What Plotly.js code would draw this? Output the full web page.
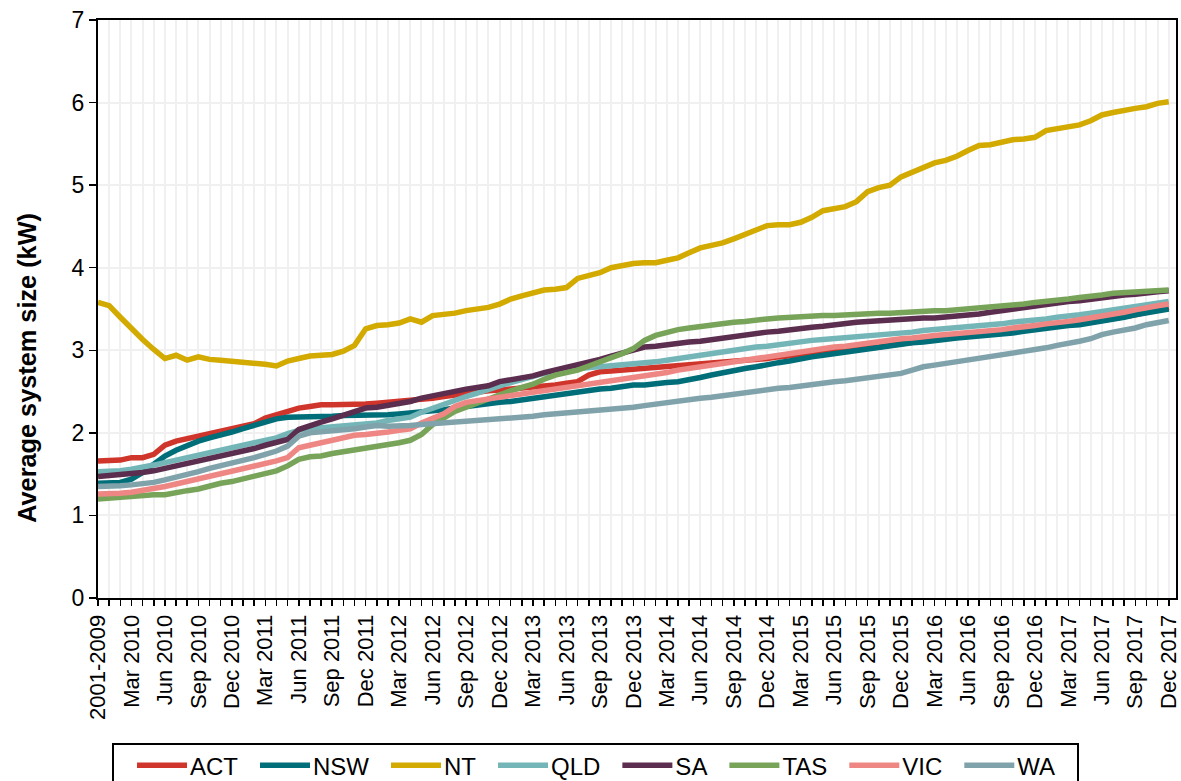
<!DOCTYPE html>
<html>
<head>
<meta charset="utf-8">
<script src="https://cdn.plot.ly/plotly-3.0.1.min.js"></script>
<style>
  html, body { margin: 0; padding: 0; background: #ffffff; }
  #chart { width: 1181px; height: 781px; }
</style>
</head>
<body>
<div id="chart"></div>
<script>
// ---- Categories / tick labels ----
const FIRST_CATEGORY = "2001-2009";
const MONTHS = ["Jan", "Feb", "Mar", "Apr", "May", "Jun", "Jul", "Aug", "Sep", "Oct", "Nov", "Dec"];
const YEARS = [2010, 2011, 2012, 2013, 2014, 2015, 2016, 2017];
const LABELLED_MONTHS = ["Mar", "Jun", "Sep", "Dec"];

const categories = [FIRST_CATEGORY];
YEARS.forEach(y => MONTHS.forEach(m => categories.push(m + " " + y)));
const tickLabels = categories.map(c =>
  (c === FIRST_CATEGORY || LABELLED_MONTHS.includes(c.slice(0, 3))) ? c : "");

// ---- Series values (average system size, kW) ----
const ACT = [1.66, 1.66, 1.67, 1.70, 1.70, 1.74, 1.85, 1.90, 1.93, 1.95, 1.98, 2.01, 2.04, 2.07, 2.11, 2.18, 2.22, 2.26, 2.30, 2.32, 2.34, 2.34, 2.34, 2.35, 2.35,
  2.36, 2.37, 2.38, 2.39, 2.40, 2.42, 2.44, 2.46, 2.48, 2.49, 2.51, 2.52, 2.53, 2.55, 2.56, 2.57, 2.58, 2.60, 2.62, 2.70, 2.74, 2.75, 2.76, 2.77, 2.79,
  2.80, 2.81, 2.82, 2.83, 2.84, 2.85, 2.86, 2.87, 2.88, 2.89, 2.90, 2.92, 2.93, 2.95, 2.96, 2.98, 2.99, 3.00, 3.01, 3.03, 3.04, 3.06, 3.08, 3.10, 3.12,
  3.13, 3.15, 3.16, 3.17, 3.19, 3.20, 3.22, 3.23, 3.25, 3.26, 3.28, 3.30, 3.31, 3.33, 3.35, 3.36, 3.38, 3.40, 3.43, 3.46, 3.49, 3.52];
const NSW = [1.39, 1.39, 1.40, 1.44, 1.52, 1.62, 1.72, 1.79, 1.85, 1.90, 1.94, 1.97, 2.01, 2.05, 2.09, 2.13, 2.17, 2.19, 2.19, 2.20, 2.20, 2.20, 2.21, 2.21, 2.22,
  2.21, 2.22, 2.23, 2.24, 2.25, 2.27, 2.28, 2.30, 2.32, 2.34, 2.35, 2.37, 2.38, 2.40, 2.42, 2.44, 2.46, 2.47, 2.49, 2.51, 2.53, 2.54, 2.56, 2.58, 2.58,
  2.60, 2.61, 2.62, 2.64, 2.67, 2.70, 2.73, 2.75, 2.78, 2.80, 2.83, 2.85, 2.87, 2.90, 2.92, 2.94, 2.96, 2.98, 3.00, 3.02, 3.04, 3.06, 3.07, 3.09, 3.10,
  3.12, 3.13, 3.15, 3.16, 3.17, 3.18, 3.20, 3.21, 3.23, 3.25, 3.27, 3.28, 3.30, 3.31, 3.33, 3.35, 3.38, 3.40, 3.43, 3.45, 3.48, 3.50];
const NT = [3.58, 3.54, 3.40, 3.26, 3.13, 3.01, 2.90, 2.94, 2.88, 2.92, 2.89, 2.88, 2.87, 2.86, 2.85, 2.83, 2.81, 2.87, 2.90, 2.93, 2.94, 2.95, 2.99, 3.06, 3.26,
  3.30, 3.31, 3.33, 3.38, 3.34, 3.42, 3.43, 3.45, 3.48, 3.50, 3.52, 3.56, 3.62, 3.66, 3.70, 3.73, 3.74, 3.76, 3.87, 3.90, 3.94, 4.00, 4.03, 4.05, 4.06,
  4.06, 4.09, 4.12, 4.18, 4.24, 4.27, 4.30, 4.35, 4.40, 4.45, 4.51, 4.52, 4.52, 4.55, 4.61, 4.69, 4.72, 4.74, 4.80, 4.92, 4.97, 5.00, 5.10, 5.16, 5.22,
  5.27, 5.30, 5.35, 5.42, 5.48, 5.49, 5.52, 5.55, 5.56, 5.58, 5.66, 5.68, 5.71, 5.73, 5.78, 5.85, 5.88, 5.91, 5.93, 5.95, 5.99, 6.01];
const QLD = [1.53, 1.53, 1.54, 1.56, 1.58, 1.61, 1.64, 1.67, 1.70, 1.73, 1.76, 1.79, 1.82, 1.84, 1.87, 1.90, 1.94, 1.99, 2.03, 2.05, 2.06, 2.07, 2.08, 2.09, 2.10,
  2.12, 2.15, 2.17, 2.19, 2.25, 2.30, 2.34, 2.39, 2.44, 2.48, 2.53, 2.57, 2.61, 2.65, 2.69, 2.72, 2.74, 2.76, 2.78, 2.79, 2.80, 2.81, 2.82, 2.83, 2.84,
  2.86, 2.88, 2.90, 2.93, 2.95, 2.97, 2.99, 3.01, 3.02, 3.04, 3.05, 3.07, 3.08, 3.10, 3.12, 3.13, 3.14, 3.15, 3.16, 3.17, 3.18, 3.19, 3.20, 3.22, 3.24,
  3.25, 3.26, 3.27, 3.28, 3.30, 3.31, 3.32, 3.34, 3.35, 3.37, 3.38, 3.40, 3.41, 3.43, 3.45, 3.47, 3.49, 3.51, 3.54, 3.56, 3.58, 3.59];
const SA = [1.47, 1.48, 1.49, 1.50, 1.52, 1.54, 1.57, 1.59, 1.62, 1.65, 1.68, 1.71, 1.74, 1.78, 1.81, 1.85, 1.89, 1.92, 2.04, 2.09, 2.13, 2.17, 2.21, 2.26, 2.30,
  2.31, 2.33, 2.36, 2.38, 2.42, 2.45, 2.48, 2.50, 2.53, 2.55, 2.57, 2.62, 2.64, 2.67, 2.69, 2.73, 2.76, 2.79, 2.82, 2.85, 2.89, 2.93, 2.97, 3.01, 3.04,
  3.05, 3.07, 3.08, 3.10, 3.11, 3.13, 3.14, 3.16, 3.18, 3.20, 3.22, 3.23, 3.25, 3.26, 3.28, 3.29, 3.31, 3.33, 3.34, 3.35, 3.36, 3.37, 3.38, 3.38, 3.39,
  3.39, 3.40, 3.42, 3.43, 3.44, 3.46, 3.48, 3.50, 3.52, 3.54, 3.55, 3.57, 3.59, 3.60, 3.62, 3.63, 3.65, 3.67, 3.68, 3.70, 3.71, 3.72];
const TAS = [1.20, 1.21, 1.22, 1.23, 1.25, 1.25, 1.25, 1.28, 1.30, 1.32, 1.36, 1.39, 1.41, 1.44, 1.47, 1.50, 1.54, 1.60, 1.68, 1.71, 1.72, 1.75, 1.77, 1.80, 1.81,
  1.83, 1.85, 1.88, 1.91, 1.98, 2.10, 2.18, 2.26, 2.31, 2.36, 2.42, 2.47, 2.51, 2.55, 2.59, 2.65, 2.70, 2.73, 2.76, 2.81, 2.86, 2.90, 2.96, 3.02, 3.12,
  3.18, 3.22, 3.25, 3.27, 3.29, 3.31, 3.33, 3.34, 3.35, 3.37, 3.38, 3.39, 3.40, 3.40, 3.41, 3.42, 3.42, 3.43, 3.44, 3.44, 3.45, 3.45, 3.46, 3.47, 3.47,
  3.48, 3.48, 3.49, 3.50, 3.51, 3.53, 3.54, 3.55, 3.56, 3.58, 3.59, 3.61, 3.62, 3.64, 3.65, 3.67, 3.69, 3.70, 3.71, 3.71, 3.72, 3.73];
const VIC = [1.26, 1.26, 1.27, 1.28, 1.30, 1.32, 1.35, 1.38, 1.41, 1.44, 1.47, 1.50, 1.53, 1.56, 1.59, 1.62, 1.66, 1.70, 1.82, 1.85, 1.88, 1.92, 1.95, 1.97, 1.98,
  1.99, 2.01, 2.03, 2.05, 2.12, 2.17, 2.23, 2.32, 2.37, 2.39, 2.41, 2.43, 2.44, 2.46, 2.48, 2.50, 2.52, 2.54, 2.56, 2.58, 2.61, 2.63, 2.65, 2.67, 2.69,
  2.71, 2.73, 2.76, 2.78, 2.81, 2.83, 2.85, 2.87, 2.89, 2.91, 2.92, 2.94, 2.96, 2.98, 3.00, 3.02, 3.04, 3.05, 3.07, 3.08, 3.10, 3.12, 3.14, 3.15, 3.17,
  3.18, 3.19, 3.20, 3.21, 3.23, 3.24, 3.25, 3.27, 3.28, 3.30, 3.32, 3.33, 3.35, 3.37, 3.39, 3.41, 3.44, 3.46, 3.49, 3.52, 3.54, 3.56];
const WA = [1.35, 1.35, 1.36, 1.37, 1.38, 1.40, 1.43, 1.46, 1.49, 1.53, 1.57, 1.60, 1.63, 1.67, 1.70, 1.74, 1.78, 1.84, 1.96, 2.00, 2.01, 2.02, 2.04, 2.05, 2.07,
  2.09, 2.08, 2.08, 2.09, 2.10, 2.11, 2.12, 2.13, 2.14, 2.14, 2.15, 2.16, 2.17, 2.19, 2.20, 2.22, 2.23, 2.24, 2.26, 2.27, 2.28, 2.29, 2.30, 2.31, 2.33,
  2.35, 2.37, 2.38, 2.40, 2.42, 2.43, 2.45, 2.47, 2.48, 2.50, 2.52, 2.54, 2.55, 2.57, 2.58, 2.60, 2.62, 2.63, 2.65, 2.67, 2.68, 2.70, 2.72, 2.76, 2.80,
  2.82, 2.84, 2.86, 2.88, 2.90, 2.92, 2.94, 2.96, 2.98, 3.01, 3.03, 3.06, 3.08, 3.11, 3.14, 3.19, 3.22, 3.24, 3.27, 3.31, 3.34, 3.36];

const seriesNames = ["ACT", "NSW", "NT", "QLD", "SA", "TAS", "VIC", "WA"];
const seriesValues = [ACT, NSW, NT, QLD, SA, TAS, VIC, WA];
const seriesColors = ["#D0352B", "#006E78", "#D2AA00", "#74B6B8", "#5B2D4E", "#78A45A", "#EE8784", "#80A3AB"];
const yTitle = "Average system size (kW)";

const FONT = "'Liberation Sans', Arial, Helvetica, sans-serif";

const traces = seriesNames.map((name, k) => ({
  type: "scatter",
  mode: "lines",
  name: name,
  x: categories,
  y: seriesValues[k],
  line: { color: seriesColors[k], width: 5.5 },
  hoverinfo: "x+y+name"
}));

const layout = {
  width: 1181,
  height: 781,
  margin: { l: 98, r: 5, t: 20, b: 183, pad: 0, autoexpand: false },
  paper_bgcolor: "#ffffff",
  plot_bgcolor: "#ffffff",
  showlegend: true,
  font: { family: FONT, color: "#000000" },
  xaxis: {
    type: "category",
    categoryorder: "array",
    categoryarray: categories,
    range: [0, 96.65],
    tickmode: "array",
    tickvals: categories,
    ticktext: tickLabels,
    tickangle: -90,
    ticks: "outside",
    ticklen: 6,
    tickwidth: 1.5,
    tickcolor: "#000000",
    tickfont: { family: FONT, size: 22, color: "#000000" },
    showline: true,
    linecolor: "#000000",
    linewidth: 2,
    mirror: true,
    showgrid: true,
    gridcolor: "#F0F0F0",
    gridwidth: 2,
    zeroline: false,
    automargin: false,
    fixedrange: true
  },
  yaxis: {
    range: [0, 7],
    tickmode: "linear",
    tick0: 0,
    dtick: 1,
    ticks: "outside",
    ticklen: 7,
    tickwidth: 1.5,
    tickcolor: "#000000",
    tickfont: { family: FONT, size: 23, color: "#000000" },
    showline: true,
    linecolor: "#000000",
    linewidth: 2,
    mirror: true,
    showgrid: true,
    gridcolor: "#F0F0F0",
    gridwidth: 2,
    zeroline: false,
    automargin: false,
    fixedrange: true
  },
  annotations: [{
    text: yTitle,
    xref: "paper", yref: "paper",
    x: -0.066, y: 0.398,
    xanchor: "center", yanchor: "middle",
    textangle: -90,
    showarrow: false,
    font: { family: FONT, size: 25.3, color: "#000000", weight: "bold" }
  }],
  legend: {
    orientation: "h",
    x: 0.013,
    xanchor: "left",
    y: -0.251,
    yanchor: "top",
    bordercolor: "#000000",
    borderwidth: 2,
    bgcolor: "#ffffff",
    font: { family: FONT, size: 24, color: "#000000" },
    itemwidth: 50,
    traceorder: "normal"
  }
};

// Legend entry geometry of the reference (long line samples)
const LEGEND_PAD_LEFT = 25, LEGEND_LINE_LEN = 50, LEGEND_TEXT_GAP = 3, LEGEND_ITEM_GAP = 22, LEGEND_PAD_RIGHT = 22, LEGEND_SHIFT_Y = -2;

Plotly.newPlot("chart", traces, layout, { displayModeBar: false, staticPlot: true }).then(gd => {
  const legend = gd.querySelector("g.legend");
  if (!legend) return;
  const scrollbox = legend.querySelector("g.scrollbox");
  if (scrollbox) scrollbox.removeAttribute("clip-path");
  const items = legend.querySelectorAll("g.traces");
  let x = LEGEND_PAD_LEFT;
  items.forEach(item => {
    const tr = item.getAttribute("transform") || "";
    const m = tr.match(/translate\(\s*([-\d.e]+)[ ,]+([-\d.e]+)\s*\)/);
    const ty = (m ? parseFloat(m[2]) : 0) + LEGEND_SHIFT_Y;
    item.setAttribute("transform", "translate(" + x + "," + ty + ")");
    item.querySelectorAll("path.js-line").forEach(p => p.setAttribute("d", "M0,0h" + LEGEND_LINE_LEN));
    const t = item.querySelector("text.legendtext");
    let tw = 40;
    if (t) {
      t.setAttribute("x", LEGEND_LINE_LEN + LEGEND_TEXT_GAP);
      tw = t.getComputedTextLength();
    }
    x += LEGEND_LINE_LEN + LEGEND_TEXT_GAP + tw + LEGEND_ITEM_GAP;
  });
  const totalW = x - LEGEND_ITEM_GAP + LEGEND_PAD_RIGHT;
  const bg = legend.querySelector("rect.bg");
  if (bg) bg.setAttribute("width", totalW);
});
</script>
</body>
</html>
